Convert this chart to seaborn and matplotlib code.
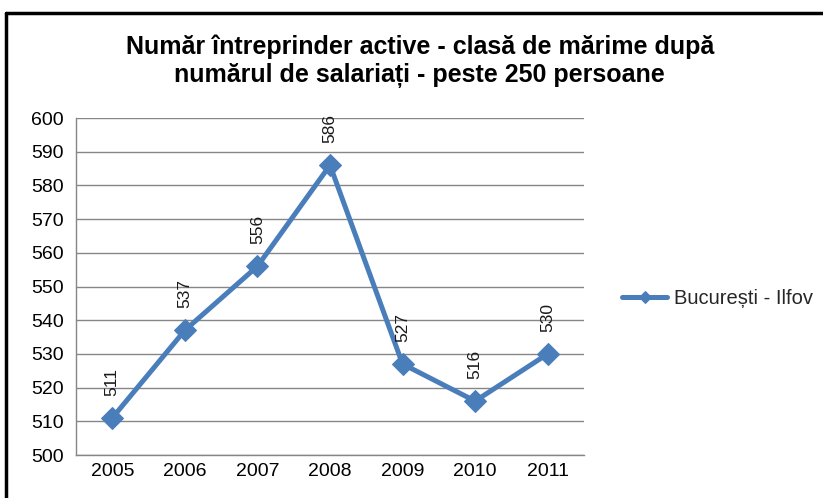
import matplotlib
matplotlib.use("Agg")
import matplotlib.pyplot as plt
import numpy as np
import pandas as pd
import seaborn as sns
from matplotlib.lines import Line2D

years = ["2005", "2006", "2007", "2008", "2009", "2010", "2011"]
values = [511, 537, 556, 586, 527, 516, 530]
series_name = "București - Ilfov"
title = "Număr întreprinder active - clasă de mărime după\nnumărul de salariați - peste 250 persoane"

LINE_COLOR = "#4A7EBB"
GRID_COLOR = "#868686"

sns.set_style("white")
plt.rcParams["font.family"] = ["Liberation Sans", "DejaVu Sans"]

fig = plt.figure(figsize=(8.23, 4.98), dpi=100)
ax = fig.add_axes([76 / 823, 1 - 455 / 498, (584 - 76) / 823, (455 - 118) / 498])

df = pd.DataFrame({"year": np.arange(len(years)), "value": values})
sns.lineplot(data=df, x="year", y="value", ax=ax, color=LINE_COLOR, linewidth=3.6,
             marker="D", markersize=11, markeredgecolor=LINE_COLOR, label=series_name)

ax.set_xlim(-0.5, len(years) - 0.5)
ax.set_ylim(500, 600)
ax.set_yticks(np.arange(500, 601, 10))
ax.set_xticks(np.arange(len(years)))
ax.set_xticklabels(years)
ax.set_xticks(np.arange(-0.5, len(years)), minor=True)
ax.set_xlabel("")
ax.set_ylabel("")
ax.tick_params(axis="x", which="major", length=0, labelsize=14, pad=6, labelcolor="black")
ax.tick_params(axis="x", which="minor", length=5, color=GRID_COLOR, width=1, direction="out")
ax.tick_params(axis="y", length=5, color=GRID_COLOR, width=1, labelsize=14, direction="out",
               pad=4, labelcolor="black")
ax.grid(axis="y", color=GRID_COLOR, linewidth=1)
ax.set_axisbelow(True)
for side in ["top", "right"]:
    ax.spines[side].set_visible(False)
for side in ["left", "bottom"]:
    ax.spines[side].set_color(GRID_COLOR)
    ax.spines[side].set_linewidth(1)

for i, v in enumerate(values):
    ax.annotate(str(v), (i, v), xytext=(0, 16), textcoords="offset points",
                rotation=90, ha="center", va="bottom", fontsize=12.5, color="#1a1a1a")

leg = ax.legend(loc="center left", bbox_to_anchor=(1.039, 0.465), frameon=False,
                fontsize=14.5, handlelength=2.25, handletextpad=0.35)
for h in leg.get_lines():
    h.set_markersize(6)

fig.text(0.51, 1 - 61 / 498, title, ha="center", va="center", fontsize=18,
         fontweight="bold", linespacing=1.2, color="black")

# outer chart frame (cropped: only top and left edges visible)
fig.add_artist(Line2D([6 / 823, 1], [1 - 13 / 498, 1 - 13 / 498], color="black", linewidth=2.5))
fig.add_artist(Line2D([6 / 823, 6 / 823], [0, 1 - 13 / 498], color="black", linewidth=2.5))

fig.savefig("out.png", dpi=100)
